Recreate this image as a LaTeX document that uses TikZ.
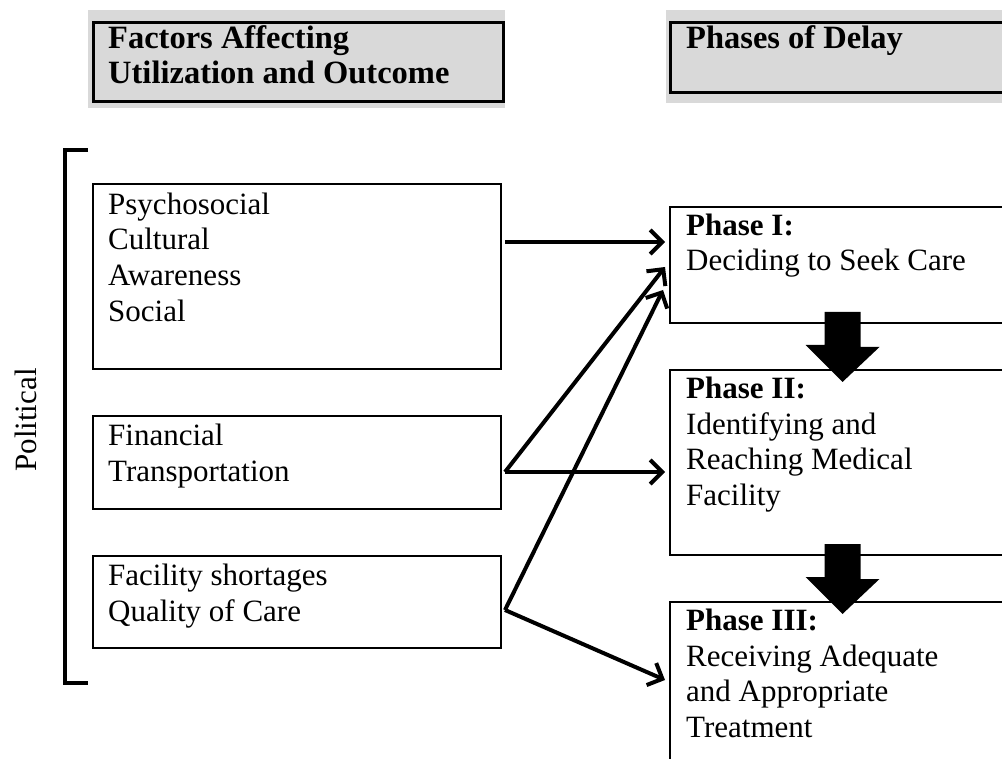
\documentclass[tikz,border=0pt]{standalone}
\usepackage{fontspec}
\setmainfont{Liberation Serif}
\usetikzlibrary{arrows.meta,calc}
\definecolor{headgray}{RGB}{217,217,217}
\newcommand{\myfonttext}[1]{\fontsize{31}{36}\selectfont{#1}}
\newcommand{\firstline}{\rule{0pt}{24pt}}
\tikzset{
	box/.style={draw, line width=2, inner sep=0, anchor=north west},
	headbox/.style={box, line width=3, fill=headgray},
	boxtext/.style={inner sep=0, anchor=north west, align=left, font=\fontsize{31}{35.8}\selectfont},
	headtext/.style={boxtext, font=\fontsize{32.5}{35}\selectfont\bfseries},
	flow/.style={line width=4, -{Straight Barb[length=12, width=24]}}
}
\begin{document}
\begin{tikzpicture}[x=1pt, y=-1pt, line join=miter]
		\useasboundingbox (0,0) rectangle (1002,759);
		%Header backgrounds
		\fill[headgray] (88,10) rectangle (505,108);
		\fill[headgray] (666,10) rectangle (1002,103);
		%Headers
		\node [headbox, minimum width=410, minimum height=79] (headfactors) at (92,21) {};
		\node [headbox, minimum width=345, minimum height=70] (headphases) at (669,21) {};
		\node [headtext] (headfactorstext) at ($(headfactors.north west)+(16,3)$) {\firstline Factors Affecting\\Utilization and Outcome};
		\node [headtext] (headphasestext) at ($(headphases.north west)+(17,3)$) {\firstline Phases of Delay};
		%The bracket with its label
		\draw [line width=4] (88,150) -- (65,150) -- (65,683) -- (88,683);
		\node [rotate=90, inner sep=0] (political) at (26,420) {\myfonttext{Political}};
		%Factor boxes
		\node [box, minimum width=408, minimum height=185] (psycho) at (92,183) {};
		\node [box, minimum width=408, minimum height=93] (finance) at (92,415) {};
		\node [box, minimum width=408, minimum height=92] (facility) at (92,555) {};
		\node [boxtext] (psychotext) at ($(psycho.north west)+(16,7)$) {\firstline Psychosocial\\Cultural\\Awareness\\Social};
		\node [boxtext] (financetext) at ($(finance.north west)+(16,6)$) {\firstline Financial\\Transportation};
		\node [boxtext] (facilitytext) at ($(facility.north west)+(16,6)$) {\firstline Facility shortages\\Quality of Care};
		%Phase boxes
		\node [box, minimum width=345, minimum height=116] (phaseone) at (669,206) {};
		\node [box, minimum width=345, minimum height=185] (phasetwo) at (669,369) {};
		\node [box, minimum width=345, minimum height=190] (phasethree) at (669,601) {};
		\node [boxtext] (phaseonetext) at ($(phaseone.north west)+(17,5)$) {\firstline\textbf{Phase I:}\\Deciding to Seek Care};
		\node [boxtext] (phasetwotext) at ($(phasetwo.north west)+(17,5)$) {\firstline\textbf{Phase II:}\\Identifying and\\Reaching Medical\\Facility};
		\node [boxtext] (phasethreetext) at ($(phasethree.north west)+(17,5)$) {\firstline\textbf{Phase III:}\\Receiving Adequate\\and Appropriate\\Treatment};
		%Block arrows between the phases
		\foreach \a/\b in {phaseone/phasetwo, phasetwo/phasethree} {
			\fill ($(\a.south)+(-18,-12)$) -- ++(36,0) -- ++(0,35) -- ++(19,0)
				-- ($(\b.north)+(0,13)$) -- ++(-37,-37) -- ++(19,0) -- cycle;
		}
		%Start and end points of the arrows
		\coordinate (psychoout) at (505,242);
		\coordinate (financeout) at (505,472);
		\coordinate (facilityout) at (505,610);
		\coordinate (phaseonein1) at (665,242);
		\coordinate (phaseonein2) at (665,267);
		\coordinate (phaseonein3) at (663,290);
		\coordinate (phasetwoin) at (665,472);
		\coordinate (phasethreein) at (665,680);
		\draw [flow] (psychoout) -- (phaseonein1);
		\draw [flow] (financeout) -- (phaseonein2);
		\draw [flow] (financeout) -- (phasetwoin);
		\draw [flow] (facilityout) -- (phaseonein3);
		\draw [flow] (facilityout) -- (phasethreein);
\end{tikzpicture}
\end{document}
